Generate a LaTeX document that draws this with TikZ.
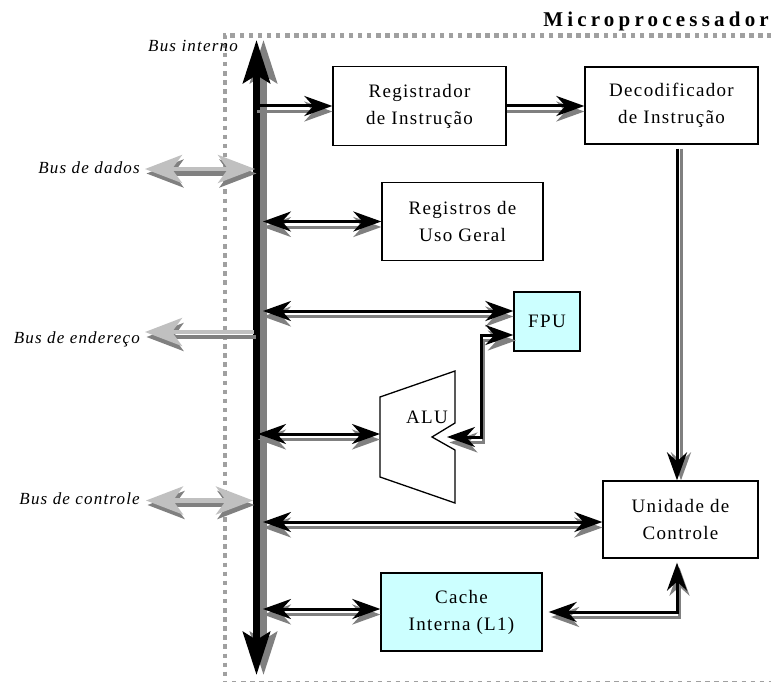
\documentclass[tikz,border=0pt]{standalone}
\usepackage{fontspec}
\setmainfont{Liberation Serif}
\newfontfamily\spaced[LetterSpace=7]{Liberation Serif}
\newfontfamily\titlefont[LetterSpace=20]{Liberation Serif}
\usetikzlibrary{arrows.meta}

\definecolor{cachecyan}{HTML}{CCFFFF}
\definecolor{shadowgray}{HTML}{808080}
\definecolor{lightbus}{HTML}{C0C0C0}
\definecolor{framegray}{HTML}{A0A0A0}

% draw a path twice: a gray copy moved by #1, then the real one on top
\newcommand\withshadow[3]{%
  \begin{scope}[transform canvas={#1}]\draw[#2,shadowgray] #3;\end{scope}%
  \draw[#2] #3;}

\tikzset{
  tipS/.tip={Stealth[length=28pt,width=20pt,inset=9pt]},
  tipB/.tip={Stealth[length=43pt,width=27pt,inset=8pt]},
  tipX/.tip={Stealth[length=37pt,width=28pt,inset=10pt]},
  blk/.style={line width=3pt,black},
  busline/.style={line width=7pt,black,tipB-tipB},
  extarrow/.style={line width=4.5pt,lightbus},
  box/.style={draw,line width=1.3pt,align=center,inner sep=0pt,
    font=\spaced\fontsize{19}{27}\selectfont},
  cyanbox/.style={box,fill=cachecyan},
  buslabel/.style={inner sep=0pt,anchor=base east,
    font=\spaced\itshape\fontsize{17}{20}\selectfont},
  frame/.style={line width=4.5pt,framegray,dash pattern=on 4.5pt off 4.6pt},
}

\begin{document}
\begin{tikzpicture}[x=1pt,y=-1pt]
\path[use as bounding box,fill=white] (0,0) rectangle (771,682);

% processor boundary
\draw[frame] (790,35.5) -- (225,35.5) -- (225,683) -- (790,683);
\node[inner sep=0pt,anchor=base east,
  font=\titlefont\bfseries\fontsize{21}{24}\selectfont] (title) at (769,27) {Microprocessador};

% blocks
\node[box,minimum width=173pt,minimum height=79pt] (reg) at (419.5,106) {Registrador\\de Instrução};
\node[box,minimum width=173pt,minimum height=77pt] (dec) at (671.5,105.5) {Decodificador\\de Instrução};
\node[box,minimum width=161pt,minimum height=78pt] (regs) at (462.5,221.5) {Registros de\\Uso Geral};
\node[cyanbox,minimum width=66pt,minimum height=59pt] (fpu) at (547,321.5) {FPU};
\node[box,minimum width=155pt,minimum height=77pt] (ctl) at (680.5,519.5) {Unidade de\\Controle};
\node[cyanbox,minimum width=161pt,minimum height=78pt] (cache) at (461.5,612) {Cache\\Interna (L1)};

% ALU outline with its input notch
\draw[line width=1.3pt,line join=miter] (380,397) -- (455,371) -- (455,423) -- (432,437)
  -- (455,450) -- (455,503) -- (380,477) -- cycle;
\node[inner sep=0pt,anchor=base,font=\spaced\fontsize{19}{22}\selectfont] (alu) at (427,423) {ALU};
\coordinate (aluW) at (380,434);
\coordinate (aluTip) at (447,437);

% attachment points on the blocks
\coordinate (fpuHigh) at ([yshift=10.5pt]fpu.west);
\coordinate (fpuLow) at ([yshift=-13.5pt]fpu.west);
\coordinate (ctlW) at ([yshift=-2.5pt]ctl.west);
\coordinate (ctlS) at ([xshift=-3.5pt,yshift=-4pt]ctl.south);
\coordinate (ctlN) at ([xshift=-3.5pt]ctl.north);
\coordinate (decS) at ([xshift=5.5pt,yshift=-4pt]dec.south);
\coordinate (cacheW) at ([yshift=3pt]cache.west);
\coordinate (cacheE) at ([xshift=6pt]cache.east);
\coordinate (elbow) at (481,0);

% internal bus
\coordinate (bustop) at (256.5,40);
\coordinate (busbot) at (256.5,675);
\coordinate (busin) at (257,0);
\coordinate (busedge) at (263,0);
\coordinate (busnear) at (258,0);
\withshadow{xshift=7pt}{busline}{(bustop) -- (busbot)}

\node[buslabel] (lblint) at (238,52) {Bus interno};

% connections on the internal bus
\withshadow{yshift=-5.5pt}{blk,-tipS}{(busin |- reg.west) -- (reg.west)}
\withshadow{yshift=-5.5pt}{blk,-tipS}{(reg.east) -- (reg.east -| dec.west)}
\withshadow{xshift=4pt}{blk,-tipS}{(decS) -- (ctlN)}
\withshadow{yshift=-5.5pt}{blk,tipS-tipS}{(busedge |- regs.west) -- (regs.west)}
\withshadow{yshift=-5.5pt}{blk,tipS-tipS}{(busedge |- fpuHigh) -- (fpuHigh)}
\withshadow{xshift=2.5pt,yshift=-5.5pt}{blk,tipS-tipS}{(aluTip) -| (elbow |- fpuLow) -- (fpuLow)}
\withshadow{yshift=-5.5pt}{blk,tipS-tipS}{(busnear |- aluW) -- (aluW)}
\withshadow{yshift=-5.5pt}{blk,tipS-tipS}{(busedge |- ctlW) -- (ctlW)}
\withshadow{yshift=-5.5pt}{blk,tipS-tipS}{(busedge |- cacheW) -- (cacheW)}
\withshadow{xshift=2.5pt,yshift=-5pt}{blk,tipS-tipS}{(cacheE) -| (ctlS)}

% external buses
\node[buslabel] (lbldados) at (140,173) {Bus de dados};
\node[buslabel] (lblend) at (140,343) {Bus de endereço};
\node[buslabel] (lblctl) at (140,504) {Bus de controle};
\coordinate (dA) at (145,169);   \coordinate (dB) at (255,169);
\coordinate (eA) at (145,332);   \coordinate (eB) at (254,332);
\coordinate (cA) at (146,500.5); \coordinate (cB) at (253,500.5);
\withshadow{xshift=1.5pt,yshift=-4.5pt}{extarrow,tipX-tipX}{(dA) -- (dB)}
\withshadow{xshift=1.5pt,yshift=-5pt}{extarrow,tipX-}{(eA) -- (eB)}
\withshadow{xshift=1.5pt,yshift=-4.5pt}{extarrow,tipX-tipX}{(cA) -- (cB)}
\end{tikzpicture}
\end{document}
